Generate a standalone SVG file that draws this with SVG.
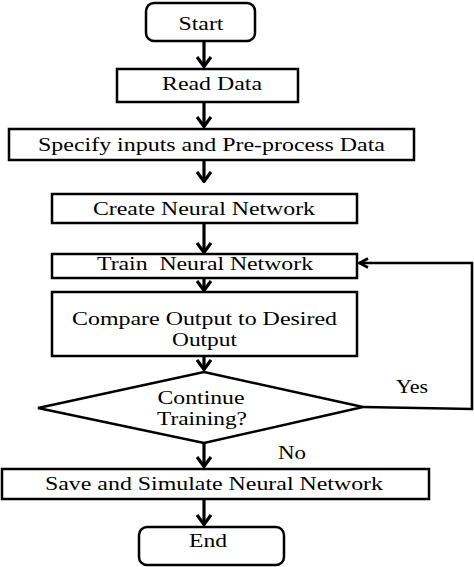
<svg xmlns="http://www.w3.org/2000/svg" width="474" height="567" viewBox="0 0 474 567">
<defs>
<marker id="ah" viewBox="0 0 12 16" refX="11" refY="8" markerWidth="12" markerHeight="16" markerUnits="userSpaceOnUse" orient="auto">
<path d="M1,1 L10.5,8 L1,15" fill="none" stroke="#000" stroke-width="3.2"/>
</marker>
<marker id="ahl" viewBox="0 0 12 12" refX="1" refY="6" markerWidth="12" markerHeight="12" markerUnits="userSpaceOnUse" orient="0">
<path d="M10,1.5 L1.5,6 L10,10.5" fill="none" stroke="#000" stroke-width="2.6"/>
</marker>
</defs>
<style>
.box{fill:#fff;stroke:#000;stroke-width:2.5}
.t{font-family:"Liberation Serif","DejaVu Serif",serif;font-size:19px;fill:#000;text-anchor:middle}
.lbl{font-family:"Liberation Serif","DejaVu Serif",serif;font-size:19px;fill:#000}
.c{fill:none;stroke:#000;stroke-width:3.2}
.f{fill:none;stroke:#000;stroke-width:2.6}
</style>
<rect width="474" height="567" fill="#fff"/>
<g id="connectors">
<line class="c" x1="204" y1="41" x2="204" y2="67" marker-end="url(#ah)"/>
<line class="c" x1="204" y1="102" x2="204" y2="127" marker-end="url(#ah)"/>
<line class="c" x1="204" y1="160" x2="204" y2="182" marker-end="url(#ah)"/>
<line class="c" x1="204" y1="223" x2="204" y2="253" marker-end="url(#ah)"/>
<line class="c" x1="204" y1="278" x2="204" y2="291" marker-end="url(#ah)"/>
<line class="c" x1="204" y1="356" x2="204" y2="370" marker-end="url(#ah)"/>
<line class="c" x1="204" y1="443" x2="204" y2="467" marker-end="url(#ah)"/>
<line class="c" x1="204" y1="499" x2="204" y2="525" marker-end="url(#ah)"/>
<polyline class="f" points="363,407 472,409 472,263 359,263" marker-end="url(#ahl)"/>
<text class="lbl" x="396" y="393" textLength="32" lengthAdjust="spacingAndGlyphs">Yes</text>
<text class="lbl" x="278" y="459" textLength="28" lengthAdjust="spacingAndGlyphs">No</text>
</g>
<g id="start">
<rect class="box" x="146" y="3" width="109" height="38" rx="8"/>
<text class="t" x="201" y="30" textLength="45" lengthAdjust="spacingAndGlyphs">Start</text>
</g>
<g id="read-data">
<rect class="box" x="117" y="69" width="181" height="33"/>
<text class="t" x="212" y="90" textLength="100" lengthAdjust="spacingAndGlyphs">Read Data</text>
</g>
<g id="specify">
<rect class="box" x="9" y="129" width="405" height="31"/>
<text class="t" x="211.5" y="151" textLength="347" lengthAdjust="spacingAndGlyphs">Specify inputs and Pre-process Data</text>
</g>
<g id="create">
<rect class="box" x="52" y="194" width="305" height="29"/>
<text class="t" x="204" y="215" textLength="222" lengthAdjust="spacingAndGlyphs">Create Neural Network</text>
</g>
<g id="train">
<rect class="box" x="52" y="254" width="305" height="24"/>
<text class="t" x="205" y="270" textLength="216" lengthAdjust="spacingAndGlyphs" xml:space="preserve" style="white-space:pre">Train  Neural Network</text>
</g>
<g id="compare">
<rect class="box" x="52" y="292" width="305" height="64"/>
<text class="t" x="204.5" y="325" textLength="265" lengthAdjust="spacingAndGlyphs">Compare Output to Desired</text>
<text class="t" x="204.5" y="346" textLength="65" lengthAdjust="spacingAndGlyphs">Output</text>
</g>
<g id="continue">
<polygon class="box" points="204,372 363,407 204,443 38,408"/>
<text class="t" x="201" y="404" textLength="87" lengthAdjust="spacingAndGlyphs">Continue</text>
<text class="t" x="202" y="425" textLength="90" lengthAdjust="spacingAndGlyphs">Training?</text>
</g>
<g id="save">
<rect class="box" x="2" y="469" width="427" height="30"/>
<text class="t" x="214" y="490" textLength="338" lengthAdjust="spacingAndGlyphs">Save and Simulate Neural Network</text>
</g>
<g id="end">
<rect class="box" x="139" y="527" width="145" height="38" rx="8"/>
<text class="t" x="208" y="547" textLength="38" lengthAdjust="spacingAndGlyphs">End</text>
</g>
</svg>
